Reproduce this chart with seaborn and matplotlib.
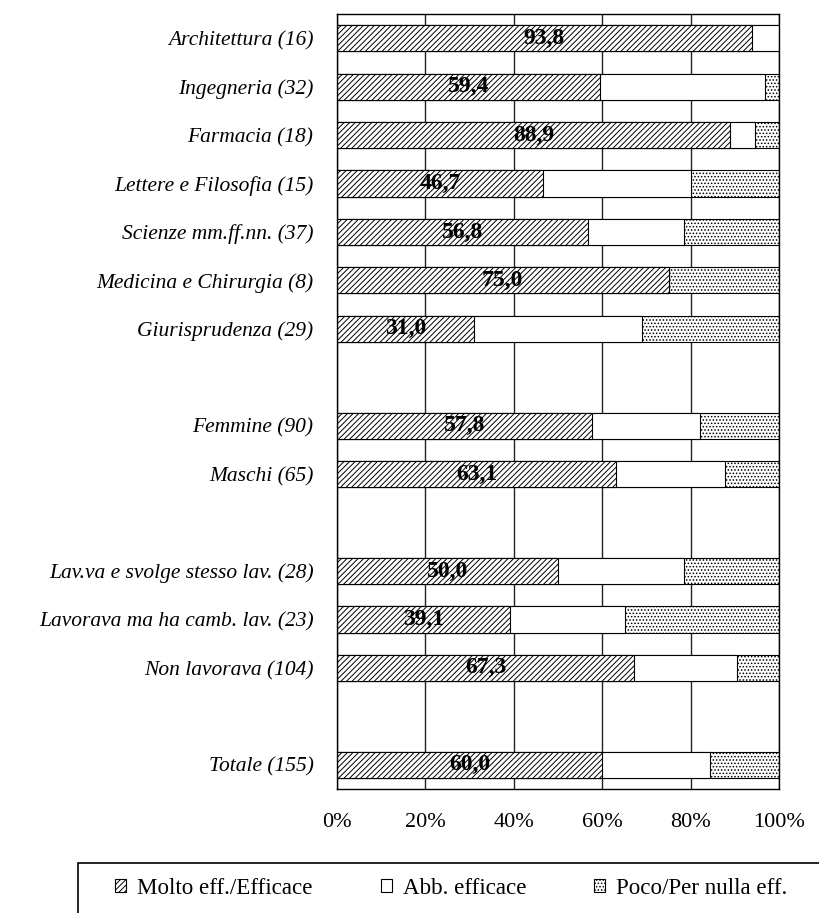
import matplotlib.pyplot as plt
import matplotlib.patches as mpatches
import seaborn as sns
import numpy as np
import pandas as pd

# data (percentages)
categories = ['Architettura (16)', 'Ingegneria (32)', 'Farmacia (18)',
              'Lettere e Filosofia (15)', 'Scienze mm.ff.nn. (37)',
              'Medicina e Chirurgia (8)', 'Giurisprudenza (29)',
              'Femmine (90)', 'Maschi (65)',
              'Lav.va e svolge stesso lav. (28)', 'Lavorava ma ha camb. lav. (23)',
              'Non lavorava (104)', 'Totale (155)']
molto = [93.8, 59.4, 88.9, 46.7, 56.8, 75.0, 31.0, 57.8, 63.1, 50.0, 39.1, 67.3, 60.0]
abb = [6.2, 37.5, 5.6, 33.3, 21.6, 0.0, 37.9, 24.4, 24.6, 28.6, 26.1, 23.1, 24.5]
poco = [0.0, 3.1, 5.6, 20.0, 21.6, 25.0, 31.0, 17.8, 12.3, 21.4, 34.8, 9.6, 15.5]

series_names = ['Molto eff./Efficace', 'Abb. efficace', 'Poco/Per nulla eff.']

# blank rows separate the groups
order = categories[:7] + [' '] + categories[7:9] + ['  '] + categories[9:12] + ['   '] + categories[12:]

df = pd.DataFrame({'cat': categories, 'molto': molto, 'abb': abb, 'poco': poco})
df['cum2'] = df['molto'] + df['abb']
df['tot'] = df['cum2'] + df['poco']

sns.set_theme(style='white')
plt.rcParams['font.family'] = ['Liberation Serif', 'DejaVu Serif']
plt.rcParams['text.color'] = 'black'
plt.rcParams['xtick.color'] = 'black'
plt.rcParams['ytick.color'] = 'black'
plt.rcParams['hatch.linewidth'] = 0.7
plt.rcParams['hatch.color'] = 'black'

hatch_molto = '//////'
hatch_poco = '.....'

fig = plt.figure(figsize=(8.19, 9.13), dpi=100)
ax = fig.add_axes([337 / 819, 1 - 789 / 913, 442 / 819, 775 / 913])

bar_kw = dict(y='cat', order=order, orient='h', errorbar=None, width=0.54,
              edgecolor='black', linewidth=0.8, saturation=1, ax=ax)
# stacked by overlaying cumulative totals
sns.barplot(data=df, x='tot', color='white', hatch=hatch_poco, **bar_kw)
sns.barplot(data=df, x='cum2', color='white', **bar_kw)
sns.barplot(data=df, x='molto', color='white', hatch=hatch_molto, **bar_kw)

for cat, m in zip(df['cat'], df['molto']):
    ax.text(m / 2, order.index(cat), '{:.1f}'.format(m).replace('.', ','),
            ha='center', va='center', fontsize=17, fontweight='bold', color='black')

ax.set_xlim(0, 100)
ax.set_xticks([0, 20, 40, 60, 80, 100])
ax.set_xticklabels(['0%', '20%', '40%', '60%', '80%', '100%'])
ax.set_xlabel('')
ax.set_ylabel('')
ax.tick_params(axis='x', length=0, pad=17, labelsize=16)
ax.tick_params(axis='y', length=0, pad=17, labelsize=15.5)
for lab in ax.get_yticklabels():
    lab.set_fontstyle('italic')

ax.grid(True, axis='x', color='#222222', linewidth=1)
ax.set_axisbelow(True)
for sp in ax.spines.values():
    sp.set_color('black')
    sp.set_linewidth(1)

# legend with a plain box running off the page
handles = [mpatches.Patch(facecolor='white', edgecolor='black', hatch=hatch_molto, linewidth=0.8),
           mpatches.Patch(facecolor='white', edgecolor='black', linewidth=0.8),
           mpatches.Patch(facecolor='white', edgecolor='black', hatch=hatch_poco, linewidth=0.8)]
fig.legend(handles, series_names, loc='center left', bbox_to_anchor=(115 / 819, 1 - 888 / 913),
           ncol=3, frameon=False, fontsize=16.6, handlelength=0.48, handleheight=0.48,
           handletextpad=0.48, columnspacing=2.95, borderaxespad=0, borderpad=0)
fig.patches.append(mpatches.Rectangle((78 / 819, -0.05), 1.0, 1 - 863 / 913 + 0.05,
                                      transform=fig.transFigure, fill=False,
                                      edgecolor='black', linewidth=1.2))

plt.savefig('out.png', dpi=100)
